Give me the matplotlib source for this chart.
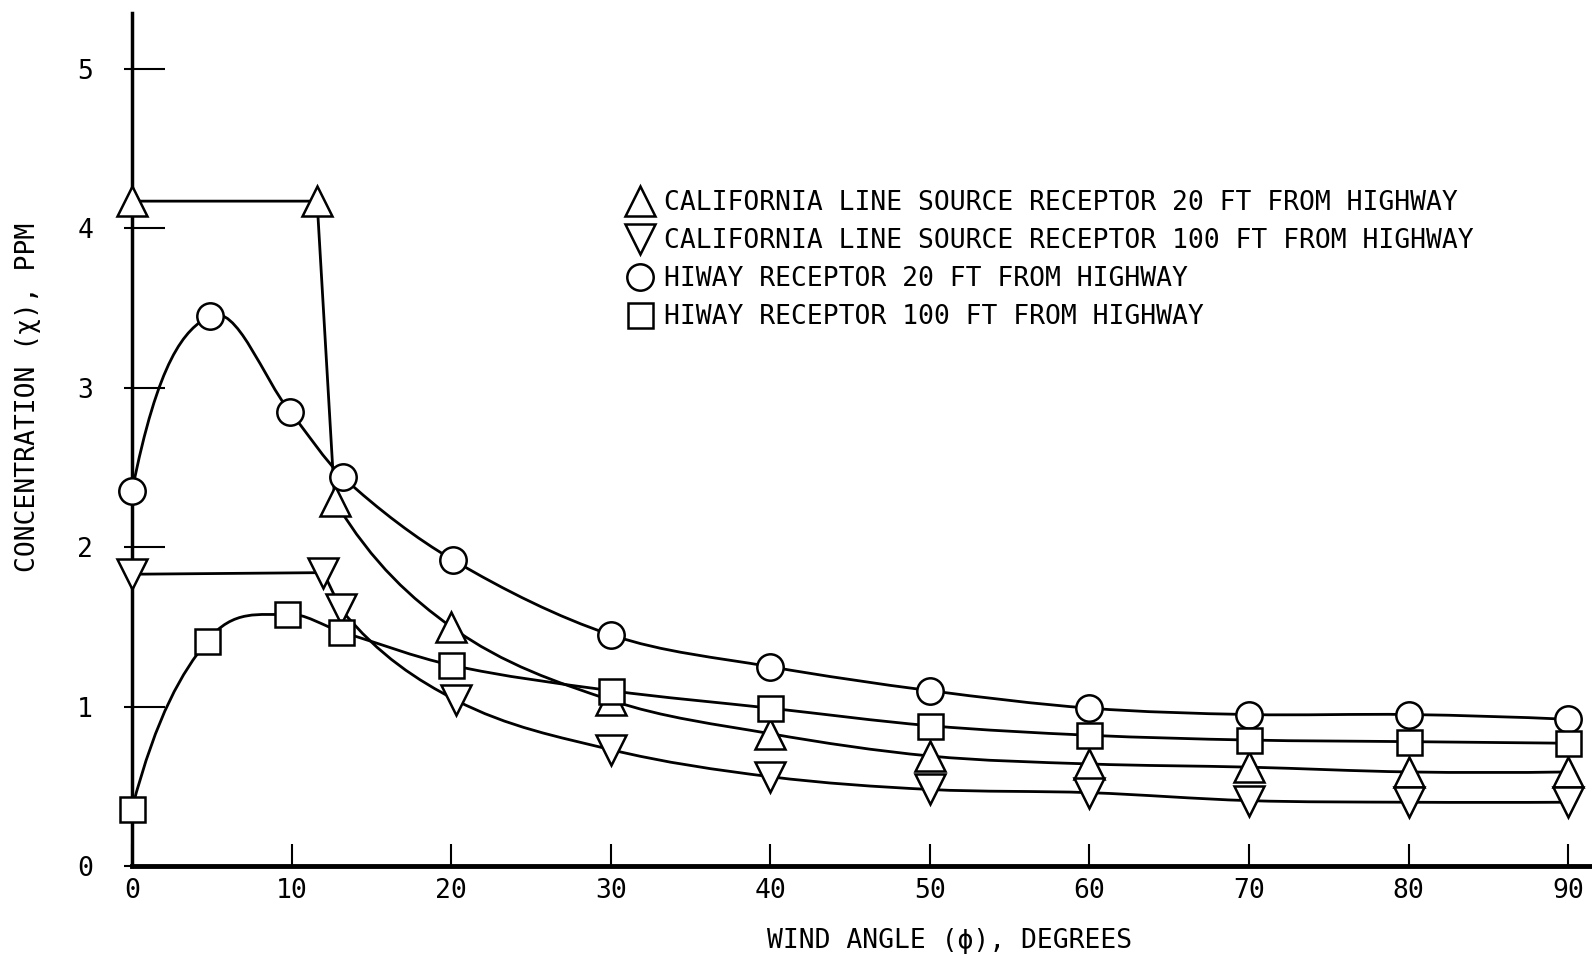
import numpy as np
import matplotlib
matplotlib.use("Agg")
import matplotlib.pyplot as plt
from matplotlib.path import Path
from matplotlib.patches import PathPatch
from matplotlib.lines import Line2D
from matplotlib.ticker import FixedLocator

plt.rcParams['font.family'] = ['DejaVu Sans Mono', 'DejaVu Sans']

# values
cal20_ang = [0, 11.6, 12.7, 20, 30, 40, 50, 60, 70, 80, 90]
cal20_ppm = [4.17, 4.17, 2.29, 1.50, 1.04, 0.83, 0.69, 0.64, 0.62, 0.59, 0.59]

cal100_ang = [0, 12.0, 13.1, 20.3, 30, 40, 50, 60, 70, 80, 90]
cal100_ppm = [1.83, 1.84, 1.61, 1.04, 0.73, 0.56, 0.48, 0.46, 0.41, 0.40, 0.40]

hiway20_ang = [0, 4.9, 9.9, 13.2, 20.1, 30, 40, 50, 60, 70, 80, 90]
hiway20_ppm = [2.35, 3.45, 2.85, 2.44, 1.92, 1.45, 1.25, 1.10, 0.99, 0.95, 0.95, 0.92]

hiway100_ang = [0, 4.7, 9.7, 13.1, 20, 30, 40, 50, 60, 70, 80, 90]
hiway100_ppm = [0.36, 1.41, 1.58, 1.47, 1.26, 1.10, 0.99, 0.88, 0.82, 0.79, 0.78, 0.77]

labels = ["CALIFORNIA LINE SOURCE RECEPTOR 20 FT FROM HIGHWAY",
          "CALIFORNIA LINE SOURCE RECEPTOR 100 FT FROM HIGHWAY",
          "HIWAY RECEPTOR 20 FT FROM HIGHWAY",
          "HIWAY RECEPTOR 100 FT FROM HIGHWAY"]
xticks = list(range(0, 100, 10))
yticks = list(range(0, 6))


def smooth(xs, ys):
    # hermite curve through the points, drawn as bezier segments
    xs = np.asarray(xs, float)
    ys = np.asarray(ys, float)
    n = len(xs)
    sec = np.diff(ys) / np.diff(xs)
    m = np.zeros(n)
    m[1:-1] = (ys[2:] - ys[:-2]) / (xs[2:] - xs[:-2])
    m[0] = 2.6 * sec[0] - 1.6 * m[1]
    m[-1] = 2 * sec[-1] - m[-2]
    verts = [(xs[0], ys[0])]
    codes = [Path.MOVETO]
    for i in range(n - 1):
        h = xs[i + 1] - xs[i]
        verts += [(xs[i] + h / 3, ys[i] + m[i] * h / 3),
                  (xs[i + 1] - h / 3, ys[i + 1] - m[i + 1] * h / 3),
                  (xs[i + 1], ys[i + 1])]
        codes += [Path.CURVE4] * 3
    return Path(verts, codes)


fig = plt.figure(figsize=(15.92, 9.57), dpi=100)
ax = fig.add_axes([132 / 1592, 91 / 957, 1460 / 1592, 853 / 957])
ax.set_xlim(0, 91.5)
ax.set_ylim(0, 5.35)

lw = 2.0
mk = dict(mfc='white', mec='black', mew=1.8, ls='none', zorder=5, clip_on=False)

# california curves: flat part, drop, then smooth tail
ax.plot(cal20_ang[:3], cal20_ppm[:3], color='black', lw=lw)
ax.add_patch(PathPatch(smooth(cal20_ang[2:], cal20_ppm[2:]), fill=False, lw=lw, ec='black'))
ax.plot(cal100_ang[:3], cal100_ppm[:3], color='black', lw=lw)
ax.add_patch(PathPatch(smooth(cal100_ang[2:], cal100_ppm[2:]), fill=False, lw=lw, ec='black'))
ax.add_patch(PathPatch(smooth(hiway20_ang, hiway20_ppm), fill=False, lw=lw, ec='black'))
ax.add_patch(PathPatch(smooth(hiway100_ang, hiway100_ppm), fill=False, lw=lw, ec='black'))

ax.plot(cal20_ang, cal20_ppm, marker='^', ms=21, **mk)
ax.plot(cal100_ang, cal100_ppm, marker='v', ms=21, **mk)
ax.plot(hiway20_ang, hiway20_ppm, marker='o', ms=19, **mk)
ax.plot(hiway100_ang, hiway100_ppm, marker='s', ms=18, **mk)

for s in ['top', 'right']:
    ax.spines[s].set_visible(False)
ax.spines['left'].set_linewidth(2.5)
ax.spines['bottom'].set_linewidth(3.5)

ax.set_xticks(xticks)
ax.set_yticks(yticks)
ax.tick_params(axis='x', direction='in', length=16, width=1.5, pad=9, labelsize=19)
ax.tick_params(axis='y', direction='in', length=24, width=1.5, pad=28, labelsize=19)
ax.yaxis.remove_overlapping_locs = False
ax.yaxis.set_minor_locator(FixedLocator(yticks))
ax.tick_params(axis='y', which='minor', direction='out', length=6, width=1.5)

ax.set_ylabel("CONCENTRATION (χ), PPM", fontsize=19)
ax.yaxis.set_label_coords(-0.062, 0.549)
ax.set_xlabel("WIND ANGLE (ϕ), DEGREES", fontsize=19)
ax.xaxis.set_label_coords(0.560, -0.073)

handles = [Line2D([], [], marker=m, ms=s, mfc='white', mec='black', mew=1.8, ls='none')
           for m, s in [('^', 21), ('v', 21), ('o', 19), ('s', 18)]]
ax.legend(handles, labels, loc='upper left', bbox_to_anchor=(0.341, 0.792),
          frameon=False, fontsize=19, handlelength=0.8, handletextpad=0.5,
          labelspacing=0.45, borderaxespad=0, borderpad=0)

fig.savefig("out.png", dpi=100)
